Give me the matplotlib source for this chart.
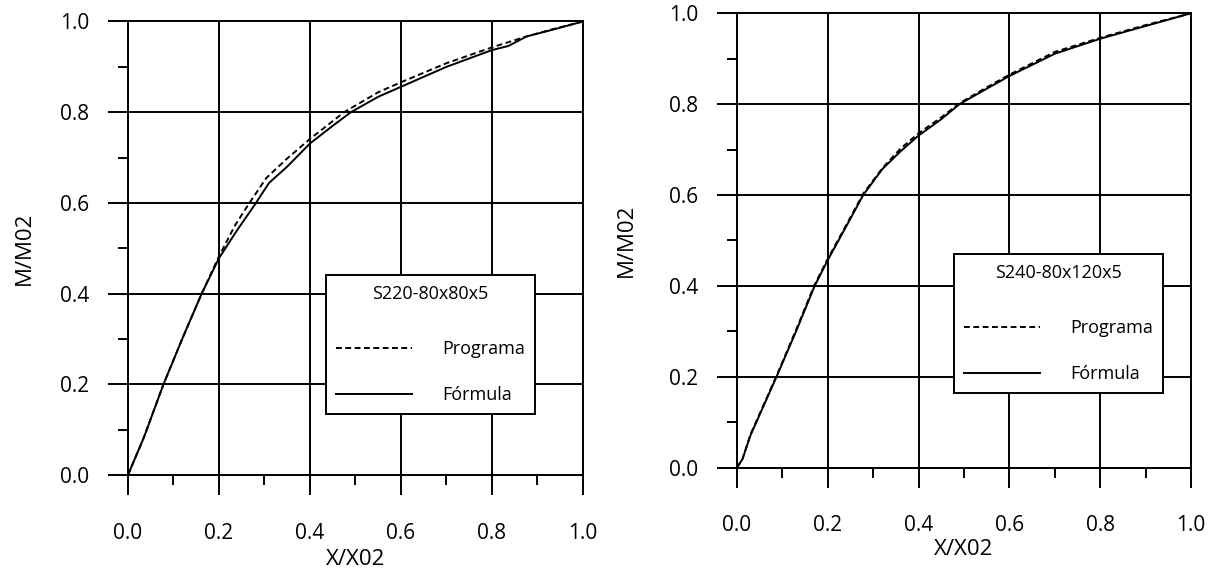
import matplotlib
matplotlib.use("Agg")
import matplotlib.pyplot as plt
from matplotlib.ticker import MultipleLocator, FormatStrFormatter

plt.rcParams['font.family'] = ['Open Sans', 'DejaVu Sans']

# S220-80x80x5
x_prog_1 = [0, 0.035, 0.078, 0.12, 0.162, 0.2, 0.235, 0.267, 0.304, 0.35, 0.4, 0.475, 0.55, 0.6, 0.7, 0.8, 0.876, 0.93, 1.0]
y_prog_1 = [0, 0.083, 0.2, 0.302, 0.4, 0.482, 0.55, 0.6, 0.655, 0.698, 0.741, 0.8, 0.844, 0.866, 0.908, 0.943, 0.967, 0.982, 1.0]
x_form_1 = [0, 0.035, 0.078, 0.12, 0.162, 0.2, 0.24, 0.278, 0.31, 0.35, 0.4, 0.45, 0.49, 0.55, 0.6, 0.7, 0.8, 0.836, 0.876, 0.93, 1.0]
y_form_1 = [0, 0.083, 0.2, 0.302, 0.4, 0.478, 0.54, 0.595, 0.644, 0.68, 0.731, 0.77, 0.8, 0.834, 0.856, 0.9, 0.937, 0.946, 0.967, 0.981, 1.0]

# S240-80x120x5
x_prog_2 = [0, 0.012, 0.03, 0.087, 0.13, 0.171, 0.2, 0.24, 0.278, 0.32, 0.36, 0.4, 0.45, 0.49, 0.55, 0.6, 0.7, 0.8, 0.9, 1.0]
y_prog_2 = [0, 0.019, 0.074, 0.202, 0.303, 0.403, 0.46, 0.533, 0.603, 0.659, 0.702, 0.736, 0.771, 0.802, 0.837, 0.865, 0.915, 0.946, 0.974, 1.0]
x_form_2 = [0, 0.012, 0.03, 0.087, 0.13, 0.171, 0.2, 0.24, 0.278, 0.32, 0.36, 0.4, 0.45, 0.49, 0.55, 0.6, 0.7, 0.8, 0.9, 1.0]
y_form_2 = [0, 0.019, 0.072, 0.2, 0.3, 0.4, 0.457, 0.53, 0.6, 0.657, 0.696, 0.731, 0.767, 0.8, 0.834, 0.862, 0.911, 0.944, 0.972, 1.0]

titulos = ['S220-80x80x5', 'S240-80x120x5']
etiquetas = ['Programa', 'Fórmula']

LW = 1.4

fig = plt.figure(figsize=(12.12, 5.70), dpi=100)
ax1 = fig.add_axes([0.1056, 0.1667, 0.3754, 0.7956])
ax2 = fig.add_axes([0.6081, 0.1795, 0.3746, 0.7972])


def dibujar(ax, xp, yp, xf, yf, titulo, leg_pos, xl_y, yl_x):
    lp, = ax.plot(xp, yp, color='black', lw=LW, linestyle=(0, (3, 1.8)))
    lf, = ax.plot(xf, yf, color='black', lw=LW)
    ax.set_xlim(0, 1)
    ax.set_ylim(0, 1)
    ax.xaxis.set_major_locator(MultipleLocator(0.2))
    ax.yaxis.set_major_locator(MultipleLocator(0.2))
    ax.xaxis.set_minor_locator(MultipleLocator(0.1))
    ax.yaxis.set_minor_locator(MultipleLocator(0.1))
    ax.xaxis.set_major_formatter(FormatStrFormatter('%.1f'))
    ax.yaxis.set_major_formatter(FormatStrFormatter('%.1f'))
    ax.grid(True, which='major', color='black', lw=LW)
    for s in ax.spines.values():
        s.set_linewidth(LW)
        s.set_color('black')
    ax.tick_params(which='major', direction='out', length=14.4, width=LW, labelsize=15)
    ax.tick_params(which='minor', direction='out', length=7.2, width=LW)
    ax.tick_params(axis='x', which='major', pad=20)
    ax.tick_params(axis='y', which='major', pad=13.5)
    ax.set_xlabel('X/X02', fontsize=16)
    ax.set_ylabel('M/M02', fontsize=16)
    ax.xaxis.set_label_coords(0.5, xl_y)
    ax.yaxis.set_label_coords(yl_x, 0.5)
    leg = ax.legend([lp, lf], etiquetas, title=titulo, loc='upper left',
                    bbox_to_anchor=leg_pos, borderaxespad=0, fontsize=13,
                    title_fontsize=13, handlelength=4.2, handletextpad=1.7,
                    labelspacing=1.55, borderpad=0.55, fancybox=False,
                    framealpha=1, edgecolor='black')
    leg.get_frame().set_linewidth(LW)
    # mas espacio entre el titulo y las entradas
    leg._legend_box.sep = 27


dibujar(ax1, x_prog_1, y_prog_1, x_form_1, y_form_1, titulos[0], (0.435, 0.441), -0.163, -0.204)
dibujar(ax2, x_prog_2, y_prog_2, x_form_2, y_form_2, titulos[1], (0.478, 0.471), -0.158, -0.220)

plt.savefig('out.png', dpi=100)
